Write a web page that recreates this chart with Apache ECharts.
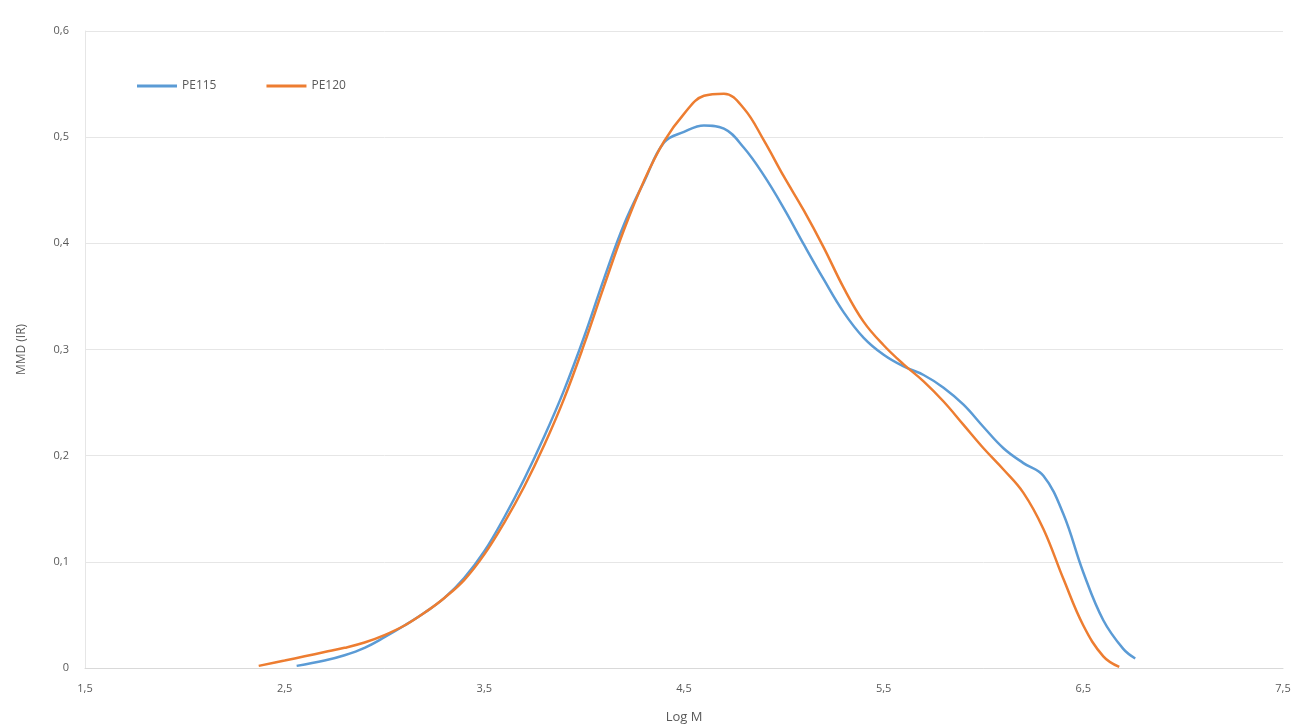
<!DOCTYPE html>
<html>
<head>
<meta charset="utf-8">
<script src="https://cdn.jsdelivr.net/npm/echarts@6/dist/echarts.min.js"></script>
<style>
  html, body { margin: 0; padding: 0; background: #fff; }
  #chart { width: 1296px; height: 724px; }
</style>
</head>
<body>
<div id="chart"></div>
<script>
// Log M / MMD pairs
const pe115 = [
  [2.56, 0.002], [2.7, 0.007], [2.8, 0.012], [2.9, 0.019], [3.0, 0.029],
  [3.1, 0.04], [3.2, 0.052], [3.3, 0.066], [3.4, 0.085], [3.5, 0.11],
  [3.6, 0.142], [3.7, 0.178], [3.8, 0.218], [3.9, 0.262], [4.0, 0.312],
  [4.1, 0.367], [4.2, 0.418], [4.3, 0.458], [4.4, 0.495], [4.5, 0.505],
  [4.6, 0.511], [4.7, 0.508], [4.8, 0.49], [4.9, 0.464], [5.0, 0.433],
  [5.1, 0.399], [5.2, 0.366], [5.3, 0.335], [5.4, 0.311], [5.5, 0.295],
  [5.6, 0.284], [5.7, 0.276], [5.8, 0.264], [5.9, 0.248], [6.0, 0.227],
  [6.1, 0.207], [6.2, 0.193], [6.3, 0.181], [6.4, 0.145], [6.5, 0.09],
  [6.6, 0.045], [6.7, 0.018], [6.76, 0.009]
];

const pe120 = [
  [2.37, 0.002], [2.5, 0.007], [2.6, 0.011], [2.7, 0.015], [2.8, 0.019],
  [2.9, 0.024], [3.0, 0.031], [3.1, 0.04], [3.2, 0.052], [3.3, 0.066],
  [3.4, 0.083], [3.5, 0.107], [3.6, 0.137], [3.7, 0.171], [3.8, 0.21],
  [3.9, 0.254], [4.0, 0.305], [4.1, 0.36], [4.2, 0.413], [4.3, 0.459],
  [4.4, 0.496], [4.5, 0.522], [4.6, 0.539], [4.7, 0.541], [4.8, 0.527],
  [4.9, 0.497], [5.0, 0.463], [5.1, 0.431], [5.2, 0.396], [5.3, 0.358],
  [5.4, 0.326], [5.5, 0.304], [5.6, 0.286], [5.7, 0.27], [5.8, 0.251],
  [5.9, 0.229], [6.0, 0.207], [6.1, 0.187], [6.2, 0.165], [6.3, 0.131],
  [6.4, 0.084], [6.5, 0.04], [6.6, 0.011], [6.68, 0.001]
];

const seriesNames = ["PE115", "PE120"];
const seriesColors = ["#5B9BD5", "#ED7D31"];

const comma = (v) => String(v).replace(".", ",");
const font = "'Open Sans', 'Liberation Sans', sans-serif";

const chart = echarts.init(document.getElementById("chart"));

chart.setOption({
  animation: false,
  backgroundColor: "#fff",
  grid: { left: 85, right: 13, top: 31, bottom: 56, outerBoundsMode: "none" },
  legend: {
    left: 132,
    top: 75,
    itemWidth: 40,
    itemHeight: 3,
    itemGap: 50,
    icon: "rect",
    textStyle: { color: "#595959", fontSize: 12, fontFamily: font },
    data: seriesNames
  },
  xAxis: {
    type: "value",
    min: 1.5,
    max: 7.5,
    interval: 1,
    name: "Log M",
    nameLocation: "middle",
    nameGap: 43,
    nameTextStyle: { color: "#595959", fontSize: 13, fontFamily: font },
    axisLine: { show: true, lineStyle: { color: "#d9d9d9" } },
    axisTick: { show: false },
    splitLine: { show: false },
    axisLabel: { color: "#595959", fontSize: 11, fontFamily: font, margin: 15, formatter: comma }
  },
  yAxis: {
    type: "value",
    min: 0,
    max: 0.6,
    interval: 0.1,
    name: "MMD (IR)",
    nameLocation: "middle",
    nameGap: 57,
    nameTextStyle: { color: "#595959", fontSize: 12, fontFamily: font },
    axisLine: { show: true, lineStyle: { color: "#e6e6e6" } },
    axisTick: { show: false },
    splitLine: { lineStyle: { color: "#e6e6e6" } },
    axisLabel: { color: "#595959", fontSize: 11, fontFamily: font, margin: 16, formatter: (v) => comma(+v.toFixed(1)) }
  },
  series: seriesNames.map((name, i) => ({
    name,
    type: "line",
    data: i === 0 ? pe115 : pe120,
    smooth: 0.4,
    showSymbol: false,
    color: seriesColors[i],
    lineStyle: { width: 2.5, color: seriesColors[i] }
  }))
});
</script>
</body>
</html>
